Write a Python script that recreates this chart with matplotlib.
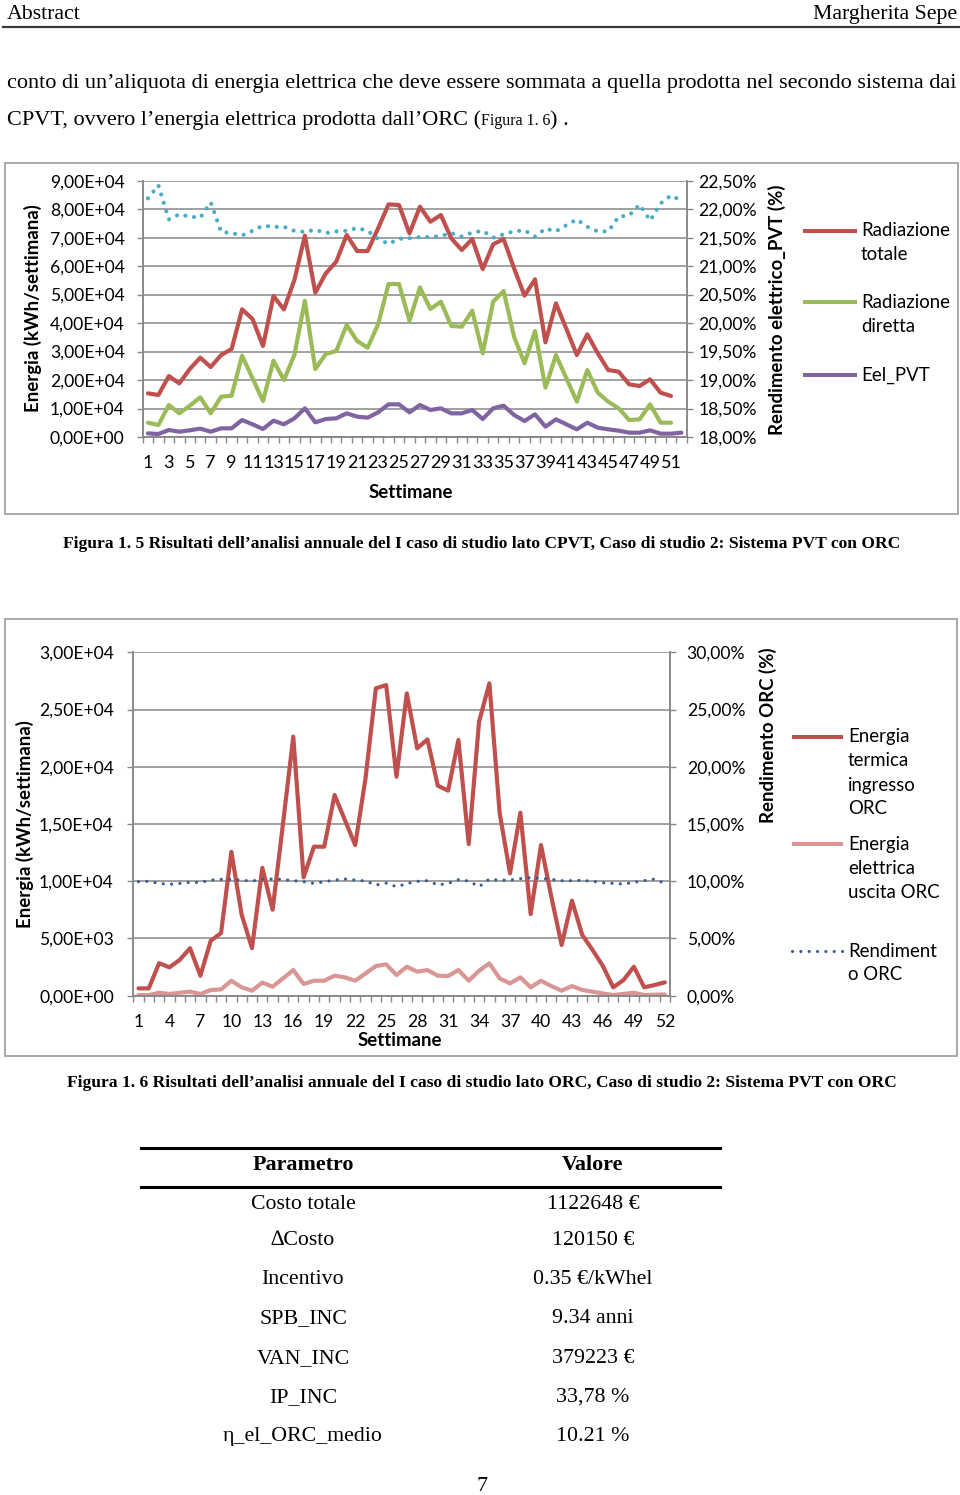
import matplotlib
matplotlib.use('Agg')
import matplotlib.pyplot as plt
from matplotlib.lines import Line2D
from matplotlib.patches import Rectangle
import numpy as np

# ---------------- data ----------------
weeks = list(range(1, 53))

# Figure 1.5 (CPVT side)
rad_tot = [15330, 14750, 21400, 18840, 23870, 27850, 24580, 28790, 30900, 44820,
           41430, 31950, 49500, 44820, 55120, 70690, 50670, 57460, 61560, 70920,
           65300, 65300, 73260, 81690, 81450, 71510, 80870, 75600, 77940, 69750,
           65660, 69520, 58990, 67650, 69520, 59220, 49620, 55360, 33240, 46930,
           37920, 28790, 36050, 29380, 23520, 22940, 18490, 17910, 20250, 15570,
           14400]
rad_dir = [5030, 4210, 11240, 8310, 11000, 13930, 8310, 14160, 14510, 28560,
           20600, 12640, 26800, 20010, 28790, 47870, 23870, 29140, 30200, 39320,
           33710, 31370, 39560, 53720, 53720, 40850, 52550, 44940, 47520, 38970,
           38740, 44360, 29380, 47520, 51260, 35230, 25870, 37220, 17320, 28790,
           20600, 12410, 23520, 15570, 12410, 10070, 5970, 6200, 11470, 5030,
           5030]
eel_pvt = [1290, 1050, 2460, 1870, 2340, 2930, 1870, 3040, 3040, 5970,
           4450, 2810, 5730, 4450, 6550, 10070, 5150, 6320, 6550, 8310,
           7140, 6790, 8660, 11470, 11470, 8660, 11240, 9480, 10070, 8310,
           8310, 9480, 6320, 10070, 11000, 7720, 5620, 7960, 3630, 6200,
           4450, 2690, 5030, 3280, 2690, 2220, 1520, 1520, 2340, 1170,
           1170, 1520]
rend_pvt = [22.19, 22.42, 21.82, 21.91, 21.87, 21.85, 22.12, 21.60, 21.58, 21.54,
            21.62, 21.71, 21.69, 21.69, 21.62, 21.60, 21.64, 21.58, 21.61, 21.62,
            21.67, 21.62, 21.48, 21.39, 21.48, 21.49, 21.51, 21.51, 21.53, 21.58,
            21.52, 21.59, 21.62, 21.50, 21.56, 21.61, 21.63, 21.52, 21.66, 21.61,
            21.72, 21.82, 21.69, 21.61, 21.61, 21.87, 21.89, 22.08, 21.80, 22.10,
            22.24, 22.15]

# Figure 1.6 (ORC side)
orc_in = [640, 640, 2840, 2480, 3130, 4150, 1750, 4800, 5470, 12570,
          7080, 4150, 11170, 7520, 15000, 22630, 10340, 13020, 13020, 17530,
          15350, 13160, 18990, 26850, 27140, 19130, 26410, 21610, 22390, 18350,
          17910, 22340, 13250, 23940, 27290, 15930, 10690, 15990, 7130, 13160,
          8650, 4430, 8300, 5300, 3990, 2590, 730, 1370, 2530, 730,
          930, 1165]
orc_out = [60, 60, 260, 150, 260, 350, 150, 500, 550, 1310,
           730, 440, 1140, 790, 1510, 2240, 1020, 1310, 1310, 1750,
           1600, 1310, 1950, 2590, 2740, 1810, 2530, 2100, 2240, 1750,
           1720, 2240, 1310, 2180, 2820, 1510, 1080, 1600, 730, 1310,
           840, 440, 840, 500, 350, 200, 60, 150, 260, 60,
           90, 110]
rend_orc = [9.96, 9.99, 9.81, 9.73, 9.81, 9.90, 9.90, 10.10, 10.16, 10.16,
            10.08, 10.02, 10.16, 10.19, 10.16, 10.05, 9.96, 9.81, 9.96, 10.10,
            10.19, 10.10, 10.02, 9.67, 9.84, 9.52, 9.79, 9.99, 10.05, 9.67,
            9.81, 10.13, 10.02, 9.52, 10.19, 10.08, 10.10, 10.22, 10.31, 10.25,
            10.16, 10.05, 10.05, 10.08, 9.99, 9.87, 9.81, 9.76, 9.90, 10.05,
            10.19, 9.81]

table_params = ["Costo totale", "\u2206Costo", "Incentivo", "SPB_INC", "VAN_INC",
                "IP_INC", "\u03b7_el_ORC_medio"]
table_values = ["1122648 \u20ac", "120150 \u20ac", "0.35 \u20ac/kWhel", "9.34 anni",
                "379223 \u20ac", "33,78 %", "10.21 %"]

# ---------------- layout helpers ----------------
W, H = 960, 1495
fig = plt.figure(figsize=(W / 100, H / 100), dpi=100)
fig.patch.set_facecolor('white')
R = fig.canvas.get_renderer()

def fx(px):
    return px / W

def fy(py):
    return 1 - py / H

SANS = ['Lato', 'DejaVu Sans']
SERIF = ['Liberation Serif', 'DejaVu Serif']
GRID = '#878787'
FRAME = '#a3a3a3'
TICKFS = 12.6
LABFS = 13.4
LEGFS = 13.4


def fit_text(s, x, y, width, ha='left', va='baseline', weight='normal', size0=12):
    t = fig.text(fx(x), fy(y), s, ha=ha, va=va, family=SERIF, weight=weight, fontsize=size0)
    bb = t.get_window_extent(R)
    t.set_fontsize(size0 * width / bb.width)
    return t


def text_w(t):
    return t.get_window_extent(R).width

# ---------------- page header and body ----------------
hdr = fit_text("Margherita Sepe", 957, 19, 144, ha='right')
hs = hdr.get_fontsize()
fig.text(fx(7), fy(19), "Abstract", ha='left', va='baseline', family=SERIF, fontsize=hs)
fig.add_artist(Line2D([fx(3), fx(960)], [fy(26.5), fy(26.5)], color='#3a3a3a', lw=1.6))

body1 = fit_text("conto di un\u2019aliquota di energia elettrica che deve essere sommata a quella "
                 "prodotta nel secondo sistema dai", 7, 88, 950)
bs = body1.get_fontsize()
t1 = fig.text(fx(7), fy(125), "CPVT, ovvero l\u2019energia elettrica prodotta dall\u2019ORC (",
              family=SERIF, fontsize=bs, va='baseline')
x_next = 7 + text_w(t1)
t2 = fig.text(fx(x_next), fy(125), "Figura 1. 6", family=SERIF, fontsize=bs * 0.72, va='baseline')
x_next += text_w(t2)
fig.text(fx(x_next), fy(125), ") .", family=SERIF, fontsize=bs, va='baseline')

# ---------------- frames ----------------
fig.patches.append(Rectangle((fx(5), fy(514)), fx(958) - fx(5), (514 - 163) / H,
                             transform=fig.transFigure, fill=False, ec=FRAME, lw=1.3))
fig.patches.append(Rectangle((fx(5), fy(1056)), fx(957) - fx(5), (1056 - 619) / H,
                             transform=fig.transFigure, fill=False, ec=FRAME, lw=1.3))


def fmt_sci(v):
    return f"{v:.2E}".replace('.', ',')


def fmt_pct(v):
    return f"{v:.2f}%".replace('.', ',')


def style_axes(ax, axb, lpad, rpad):
    for a in (ax, axb):
        a.spines['top'].set_visible(False)
        for side in ('left', 'right', 'bottom'):
            a.spines[side].set_color(GRID)
            a.spines[side].set_linewidth(1.1)
    ax.set_xlim(-0.5, 51.5)
    ax.set_xticks(np.arange(-0.5, 52, 1))
    ax.set_xticklabels([])
    ax.tick_params(axis='x', which='major', length=4, width=1, color=GRID, direction='out')
    ax.tick_params(axis='y', which='major', length=4, width=1, color=GRID, direction='out',
                   labelsize=TICKFS, pad=lpad)
    axb.tick_params(axis='y', which='major', length=4, width=1, color=GRID, direction='out',
                    labelsize=TICKFS, pad=rpad)
    ax.grid(axis='y', color=GRID, lw=1.1)
    ax.set_axisbelow(True)
    ax.patch.set_alpha(0)
    axb.patch.set_alpha(0)
    for lab in ax.get_yticklabels() + axb.get_yticklabels() + ax.get_xticklabels(minor=True):
        lab.set_family(SANS)


def legend_entry(x0, x1, xt, y, lines, color, dotted=False, lw=2.9):
    if dotted:
        fig.add_artist(Line2D([fx(x0), fx(x1)], [fy(y), fy(y)], color=color, lw=lw,
                              linestyle=(0, (0.01, 2.6)), dash_capstyle='round'))
    else:
        fig.add_artist(Line2D([fx(x0), fx(x1)], [fy(y), fy(y)], color=color, lw=lw,
                              solid_capstyle='butt'))
    for k, s in enumerate(lines):
        fig.text(fx(xt), fy(y + 24 * k), s, ha='left', va='center', family=SANS,
                 fontsize=LEGFS)

# ---------------- Figure 1.5 chart ----------------
ax1 = fig.add_axes([fx(142.7), fy(437), (686.7 - 142.7) / W, (437 - 180.7) / H])
ax1b = ax1.twinx()
lkw = dict(lw=3.0, solid_joinstyle='round', solid_capstyle='round')
ax1.plot(range(len(rad_tot)), rad_tot, color='#C0504D', **lkw)
ax1.plot(range(len(rad_dir)), rad_dir, color='#9BBB59', **lkw)
ax1.plot(range(len(eel_pvt)), eel_pvt, color='#8064A2', **lkw)
ax1b.plot(range(len(rend_pvt)), rend_pvt, color='#4BACC6', lw=3.0,
          linestyle=(0, (0.01, 2.1)), dash_capstyle='round')
ax1.set_ylim(0, 90000)
yt = np.arange(0, 90001, 10000)
ax1.set_yticks(yt)
ax1.set_yticklabels([fmt_sci(v) for v in yt])
ax1b.set_ylim(18, 22.5)
yt2 = np.arange(18, 22.51, 0.5)
ax1b.set_yticks(yt2)
ax1b.set_yticklabels([fmt_pct(v) for v in yt2])
ax1.set_xticks(range(0, 52, 2), minor=True)
ax1.set_xticklabels([str(w) for w in weeks[::2]], minor=True)
ax1.tick_params(axis='x', which='minor', length=0, pad=13, labelsize=TICKFS + 0.4)
style_axes(ax1, ax1b, 9, 4.5)

fig.text(fx(411), fy(492), "Settimane", ha='center', va='center', family=SANS,
         weight='bold', fontsize=LABFS)
fig.text(fx(33), fy(308), "Energia (kWh/settimana)", ha='center', va='center', rotation=90,
         family=SANS, weight='bold', fontsize=LABFS)
fig.text(fx(777), fy(310), "Rendimento elettrico_PVT (%)", ha='center', va='center',
         rotation=90, family=SANS, weight='bold', fontsize=LABFS)

legend_entry(803, 857, 861, 231, ["Radiazione", "totale"], '#C0504D')
legend_entry(803, 857, 861, 302, ["Radiazione", "diretta"], '#9BBB59')
legend_entry(803, 857, 861, 375, ["Eel_PVT"], '#8064A2')

fit_text("Figura 1. 5 Risultati dell\u2019analisi annuale del I caso di studio lato CPVT, "
         "Caso di studio 2: Sistema PVT con ORC", 482, 548, 830, ha='center', weight='bold')

# ---------------- Figure 1.6 chart ----------------
ax2 = fig.add_axes([fx(133.3), fy(995.7), (670 - 133.3) / W, (995.7 - 652.3) / H])
ax2b = ax2.twinx()
ax2.plot(range(len(orc_in)), orc_in, color='#C0504D', **lkw)
ax2.plot(range(len(orc_out)), orc_out, color='#D99694', **lkw)
ax2b.plot(range(len(rend_orc)), rend_orc, color='#365F91', lw=2.3,
          linestyle=(0, (0.01, 2.6)), dash_capstyle='round')
ax2.set_ylim(0, 30000)
yt3 = np.arange(0, 30001, 5000)
ax2.set_yticks(yt3)
ax2.set_yticklabels([fmt_sci(v) for v in yt3])
ax2b.set_ylim(0, 30)
yt4 = np.arange(0, 30.01, 5)
ax2b.set_yticks(yt4)
ax2b.set_yticklabels([fmt_pct(v) for v in yt4])
ax2.set_xticks(range(0, 52, 3), minor=True)
ax2.set_xticklabels([str(w) for w in weeks[::3]], minor=True)
ax2.tick_params(axis='x', which='minor', length=0, pad=13, labelsize=TICKFS)
style_axes(ax2, ax2b, 10, 8)

fig.text(fx(400), fy(1041), "Settimane", ha='center', va='center', family=SANS,
         weight='bold', fontsize=LABFS)
fig.text(fx(25), fy(824), "Energia (kWh/settimana)", ha='center', va='center', rotation=90,
         family=SANS, weight='bold', fontsize=LABFS)
fig.text(fx(768), fy(735), "Rendimento ORC (%)", ha='center', va='center',
         rotation=90, family=SANS, weight='bold', fontsize=LABFS)

legend_entry(792, 843, 848, 737, ["Energia", "termica", "ingresso", "ORC"], '#C0504D')
legend_entry(792, 843, 848, 844, ["Energia", "elettrica", "uscita ORC"], '#D99694')
legend_entry(792, 843, 848, 951, ["Rendiment", "o ORC"], '#365F91', dotted=True, lw=2.3)

fit_text("Figura 1. 6 Risultati dell\u2019analisi annuale del I caso di studio lato ORC, "
         "Caso di studio 2: Sistema PVT con ORC", 482, 1087, 822, ha='center', weight='bold')

# ---------------- table ----------------
fig.add_artist(Line2D([fx(141), fx(720)], [fy(1148), fy(1148)], color='black', lw=2.2))
fig.add_artist(Line2D([fx(141), fx(720)], [fy(1187), fy(1187)], color='black', lw=2.2))
th = fit_text("Parametro", 303, 1170, 100, ha='center', weight='bold')
fig.text(fx(593), fy(1170), "Valore", ha='center', va='baseline', family=SERIF,
         weight='bold', fontsize=th.get_fontsize())
tr = fit_text(table_params[0], 303, 1209, 105, ha='center')
row_y = [1209, 1245, 1284, 1323, 1363, 1402, 1441]
for i, (p, v) in enumerate(zip(table_params, table_values)):
    if i > 0:
        fig.text(fx(303), fy(row_y[i]), p, ha='center', va='baseline', family=SERIF,
                 fontsize=tr.get_fontsize())
    fig.text(fx(593), fy(row_y[i]), v, ha='center', va='baseline', family=SERIF,
             fontsize=tr.get_fontsize())

fig.text(fx(482), fy(1491), "7", ha='center', va='baseline', family=SERIF,
         fontsize=tr.get_fontsize())

fig.savefig('out.png', dpi=100, facecolor='white')
